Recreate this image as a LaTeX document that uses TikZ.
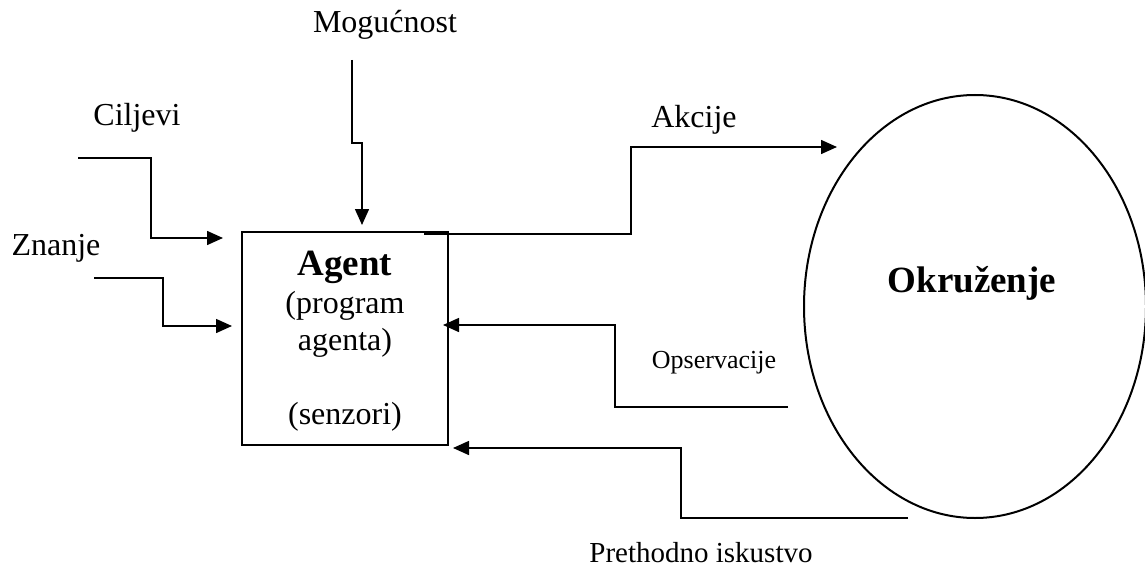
\documentclass[tikz,border=0pt]{standalone}
\usepackage{fontspec}
\setmainfont{Liberation Serif}
\usetikzlibrary{arrows.meta,shapes.geometric}
\tikzset{
  conn/.style={line width=0.75pt},
  arr/.style={conn,-{Triangle[length=8pt,width=7pt]}},
  lbl/.style={inner sep=0pt,font=\fontsize{16}{19}\selectfont},
}
\begin{document}
\begin{tikzpicture}[x=0.5pt,y=-0.5pt]
\useasboundingbox (0,0) rectangle (1145,567);
% box
\node[draw,line width=0.75pt,minimum width=103pt,minimum height=106.5pt,inner sep=0pt] (agent) at (345,338.5) {};
\node[lbl,font=\fontsize{18.5}{22}\selectfont\bfseries] (agt) at (345,267) {Agent};
\node[lbl] (prog) at (345,306) {(program};
\node[lbl] (agta) at (345,343) {agenta)};
\node[lbl] (senz) at (345,417) {(senzori)};
% environment
\node[draw,ellipse,line width=1pt,minimum width=171pt,minimum height=211.5pt,inner sep=0pt] (env) at (975,306.5) {};
\node[lbl,font=\fontsize{18.5}{22}\selectfont\bfseries] (okr) at (972,283) {Okruženje};
% labels
\node[lbl] (mog) at (385,25) {Mogućnost};
\node[lbl] (cilj) at (137,118) {Ciljevi};
\node[lbl] (zn) at (56,248) {Znanje};
\node[lbl] (akc) at (694,120) {Akcije};
\node[lbl,font=\fontsize{13}{16}\selectfont] (ops) at (714,363) {Opservacije};
\node[lbl,font=\fontsize{14.5}{17}\selectfont] (pret) at (701,553) {Prethodno iskustvo};
% connector endpoints
\coordinate (m0) at (352,60);
\coordinate (m1) at (362,225);
\coordinate (c0) at (78,158);
\coordinate (c1) at (223,238);
\coordinate (z0) at (94,278);
\coordinate (z1) at (232,326);
\coordinate (a0) at (424,234);
\coordinate (a1) at (837,147);
\coordinate (o0) at (788,407);
\coordinate (o1) at (443,325);
\coordinate (p0) at (908,518);
\coordinate (p1) at (453,448);
% connectors
\draw[arr] (m0) -- (352,143) -- (362,143) -- (m1);
\draw[arr] (c0) -- (151,158) -- (151,238) -- (c1);
\draw[arr] (z0) -- (163,278) -- (163,326) -- (z1);
\draw[arr] (a0) -- (631,234) -- (631,147) -- (a1);
\draw[arr] (o0) -- (615,407) -- (615,325) -- (o1);
\draw[arr] (p0) -- (681,518) -- (681,448) -- (p1);
\end{tikzpicture}
\end{document}
